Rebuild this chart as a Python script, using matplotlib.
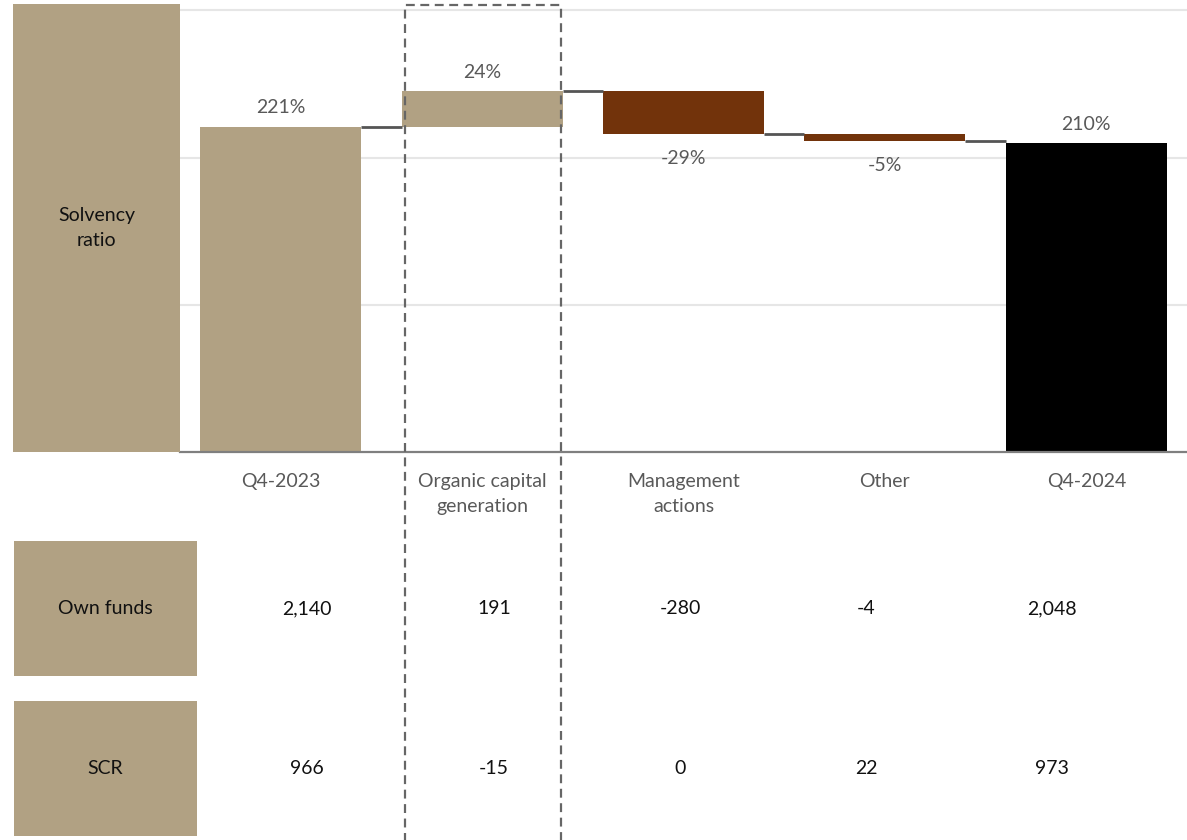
import matplotlib
matplotlib.use("Agg")
import matplotlib.pyplot as plt
from matplotlib.patches import Rectangle

# ---------------- data ----------------
categories = ["Q4-2023", "Organic capital\ngeneration", "Management\nactions", "Other", "Q4-2024"]
start_ratio = 221
deltas = [24, -29, -5]
end_ratio = 210
own_funds = ["2,140", "191", "-280", "-4", "2,048"]
scr = ["966", "-15", "0", "22", "973"]
row_labels = ["Own funds", "SCR"]

# ---------------- style ----------------
BEIGE = "#b1a183"
BROWN = "#72330b"
BLACK = "#000000"
GREY_TXT = "#595959"
plt.rcParams["font.family"] = ["Lato", "DejaVu Sans"]
FS = 14

W, H = 1187, 840
def fx(px):
    return px / W
def fy(py):
    return 1 - py / H

fig = plt.figure(figsize=(W / 100, H / 100), dpi=100)
fig.patch.set_facecolor("white")

# left "Solvency ratio" box
fig.patches.append(Rectangle((fx(13), fy(452)), fx(180) - fx(13), fy(4) - fy(452),
                             transform=fig.transFigure, facecolor=BEIGE, edgecolor="none", zorder=0))
fig.text(fx(96.5), fy(228), "Solvency\nratio", ha="center", va="center", fontsize=FS,
         color="#111111", linespacing=1.62)

ax = fig.add_axes([fx(180), fy(452), fx(1187) - fx(180), fy(4) - fy(452)])
ax.set_xlim(-0.5, 4.5)
ax.set_ylim(0, 304.4)
for s in ["top", "left", "right"]:
    ax.spines[s].set_visible(False)
ax.spines["bottom"].set_color("#7f7f7f")
ax.spines["bottom"].set_linewidth(1.6)
ax.set_yticks([100, 200, 300])
ax.set_yticklabels([])
ax.tick_params(axis="y", length=0)
ax.yaxis.grid(True, color="#e6e6e6", lw=1.5)
ax.set_axisbelow(True)

# waterfall geometry
n = len(categories)
bottoms, heights, colors, levels = [], [], [], []
bottoms.append(0); heights.append(start_ratio); colors.append(BEIGE)
run = start_ratio
levels.append(run)
for d in deltas:
    if d >= 0:
        bottoms.append(run); heights.append(d); colors.append(BEIGE)
    else:
        bottoms.append(run + d); heights.append(-d); colors.append(BROWN)
    run += d
    levels.append(run)
bottoms.append(0); heights.append(end_ratio); colors.append(BLACK)

xs = list(range(n))
ax.bar(xs, heights, bottom=bottoms, width=0.8, color=colors, zorder=2)

# connectors
for i in range(n - 1):
    ax.plot([i + 0.4, i + 0.6], [levels[i], levels[i]], color="#555555", lw=2, zorder=3,
            solid_capstyle="butt")

# value labels
label_vals = [start_ratio] + deltas + [end_ratio]
for i, v in enumerate(label_vals):
    txt = f"{v}%"
    if v >= 0:
        ax.annotate(txt, (i, bottoms[i] + heights[i]), xytext=(0, 7.5), textcoords="offset points",
                    ha="center", va="bottom", fontsize=FS, color=GREY_TXT)
    else:
        ax.annotate(txt, (i, bottoms[i]), xytext=(0, -11.5), textcoords="offset points",
                    ha="center", va="top", fontsize=FS, color=GREY_TXT)

ax.set_xticks(xs)
ax.set_xticklabels(categories, fontsize=FS, color=GREY_TXT, linespacing=1.55)
ax.tick_params(axis="x", length=0, pad=15)

# table rows
row_tops = [541, 701]
row_h = 135
col_x = [307, 494, 680, 866, 1052]
for r, (lab, vals) in enumerate(zip(row_labels, [own_funds, scr])):
    top = row_tops[r]
    fig.patches.append(Rectangle((fx(14), fy(top + row_h)), fx(197) - fx(14), fy(top) - fy(top + row_h),
                                 transform=fig.transFigure, facecolor=BEIGE, edgecolor="none", zorder=0))
    yc = fy(top + row_h / 2 + 0.5)
    fig.text(fx(105.5), yc, lab, ha="center", va="center", fontsize=FS, color="#111111")
    for cx, v in zip(col_x, vals):
        fig.text(fx(cx), yc, v, ha="center", va="center", fontsize=FS, color="#111111")

# dashed highlight box around organic capital generation
fig.patches.append(Rectangle((fx(404.5), fy(850)), fx(561) - fx(404.5), fy(4.5) - fy(850),
                             transform=fig.transFigure, facecolor="none", edgecolor="#666666",
                             lw=1.6, linestyle=(0, (4, 2.5)), zorder=10))

fig.savefig("out.png", dpi=100, facecolor="white")
